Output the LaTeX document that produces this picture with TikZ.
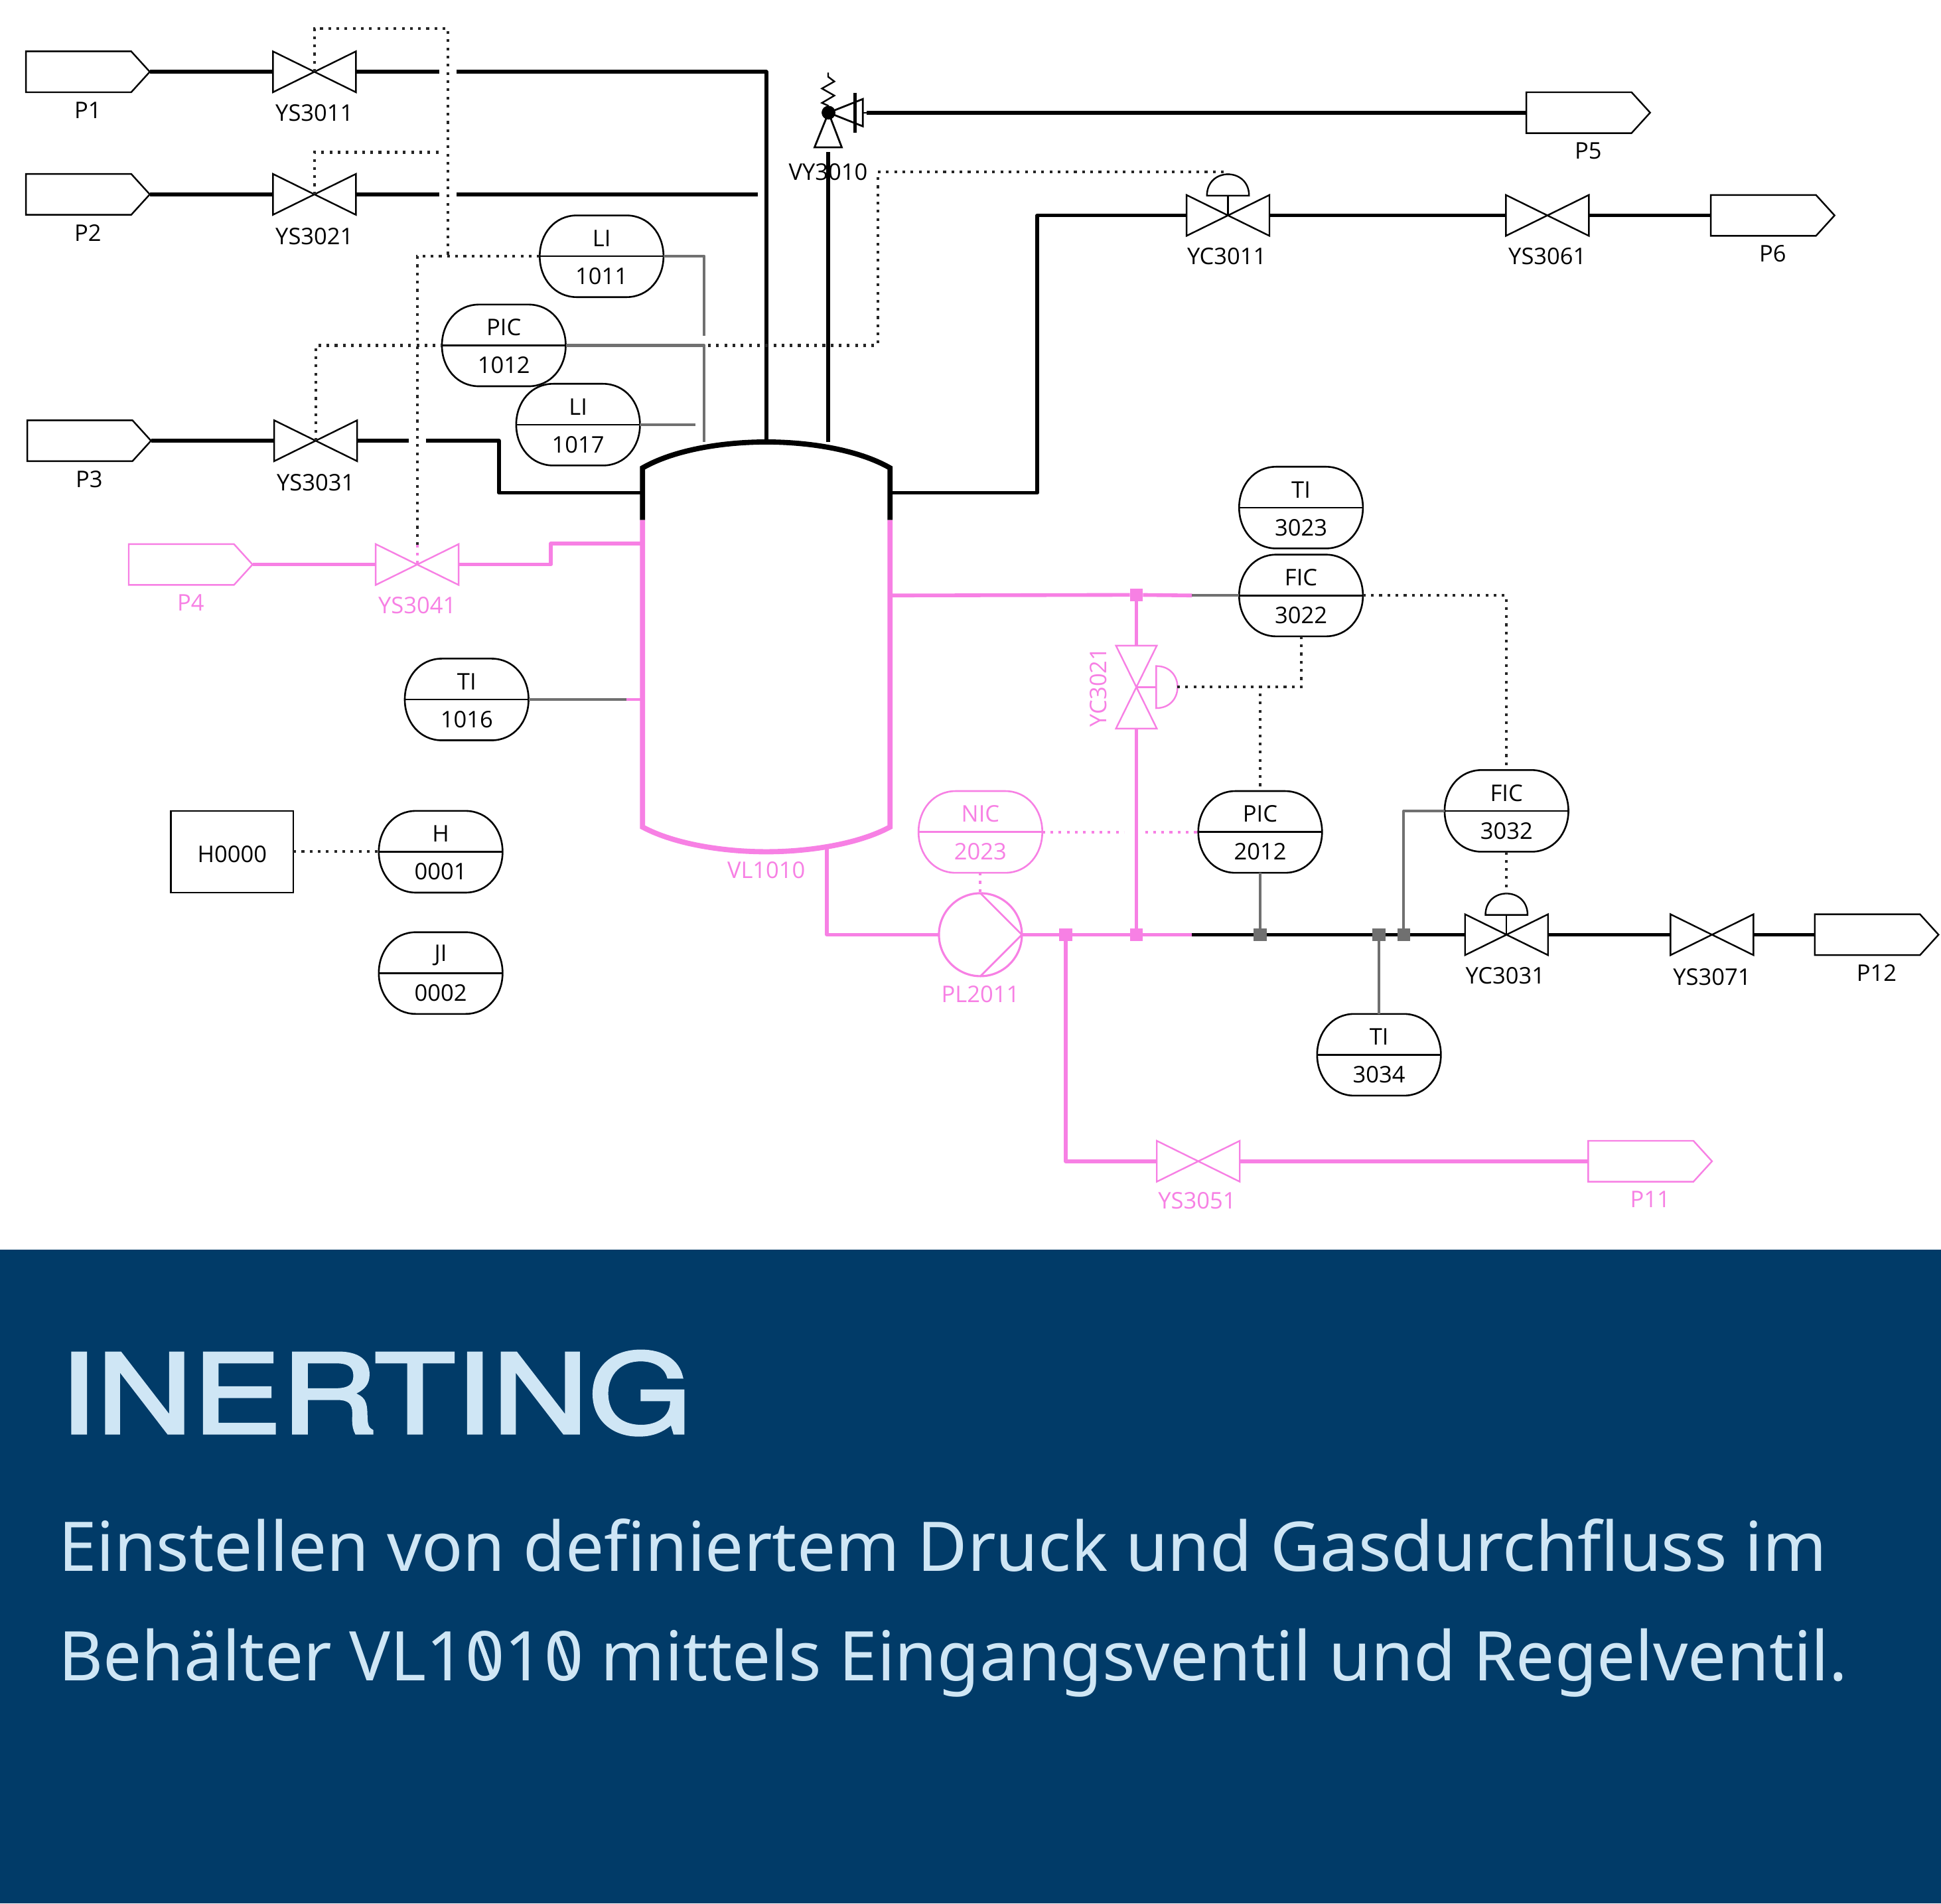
\documentclass[tikz,border=0pt]{standalone}
\usepackage{fontspec}
\setmainfont{Open Sans}
\newfontfamily\headf[FakeBold=2.5]{TeX Gyre Heros}
\newfontfamily\bodyf{Noto Sans}
\definecolor{mg}{HTML}{F780E4}
\definecolor{sigg}{HTML}{707070}
\definecolor{navy}{HTML}{013B68}
\definecolor{pale}{HTML}{CFE6F5}
\newcommand\slz{\ooalign{0\cr\hidewidth\raisebox{.06em}{\rotatebox[origin=c]{20}{\rule{.07em}{.6em}}}\hidewidth\cr}}
\tikzset{
  symb/.style={line width=1.3pt,line join=miter},
  pipe/.style={line width=3pt,black,line join=round},
  pipem/.style={line width=3pt,mg,line join=round},
  sigline/.style={line width=2.2pt,sigg,line join=round},
  dotb/.style={line width=2.2pt,black!85,dash pattern=on 2.2pt off 4.4pt},
  dotm/.style={line width=2.2pt,mg,dash pattern=on 2.2pt off 4.4pt},
  lab/.style={font=\fontsize{18.5}{22}\selectfont,inner sep=0pt},
  hidden/.style={inner sep=0pt,outer sep=0pt,draw=none},
  offbox/.style={hidden,minimum width=100pt,minimum height=33pt},
  valh/.style={hidden,minimum width=67pt,minimum height=33pt},
  valv/.style={hidden,minimum width=33pt,minimum height=67pt},
  instbox/.style={hidden,minimum width=100pt,minimum height=66pt},
  junc/.style={inner sep=0pt,outer sep=0pt,minimum size=10.5pt,fill=mg},
  juncg/.style={inner sep=0pt,outer sep=0pt,minimum size=10.5pt,fill=sigg},
}
\newcommand\offpg[5]{%
  \node[offbox] (#1) at (#2,#3) {};
  \draw[symb,#5] (#1.north west) -- ([xshift=-15pt]#1.north east) -- (#1.east) -- ([xshift=-15pt]#1.south east) -- (#1.south west) -- cycle;
  \node[lab,text=#5] (#1lab) at (#2,#3+31) {#4};
}
\newcommand\valveh[4]{%
  \node[valh] (#1) at (#2,#3) {};
  \draw[symb,#4] (#1.north west) -- (#1.south east) -- (#1.north east) -- (#1.south west) -- cycle;
}
\newcommand\instr[6]{%
  \node[instbox] (#1) at (#2,#3) {};
  \draw[line width=1.4pt,#6] (#2-50,#3) .. controls (#2-50,#3-18) and (#2-38,#3-33) .. (#2-20,#3-33) -- (#2+20,#3-33)
     .. controls (#2+38,#3-33) and (#2+50,#3-18) .. (#2+50,#3)
     .. controls (#2+50,#3+18) and (#2+38,#3+33) .. (#2+20,#3+33) -- (#2-20,#3+33)
     .. controls (#2-38,#3+33) and (#2-50,#3+18) .. (#2-50,#3) -- cycle;
  \draw[line width=1.4pt,#6] (#1.west) -- (#1.east);
  \node[lab,text=#6] (#1t) at (#2,#3-14.5) {#4};
  \node[lab,text=#6] (#1b) at (#2,#3+16) {#5};
}
\newcommand\domeup[4]{%
  \node[hidden,minimum width=34pt,minimum height=17pt,anchor=south] (#1) at (#2,#3) {};
  \draw[symb,#4] (#1.south west) .. controls ([yshift=6pt]#1.north west) and ([yshift=6pt]#1.north east) .. (#1.south east) -- cycle;
}
\begin{document}
\begin{tikzpicture}[x=1pt,y=-1pt]
\useasboundingbox (0,0) rectangle (1568,1537.45);
\fill[white] (0,0) rectangle (1568,1010);
\fill[navy] (0,1009.5) rectangle (1568,1537.45);

% off-page connectors
\offpg{P1}{71}{58}{P1}{black}
\offpg{P2}{71}{157}{P2}{black}
\offpg{P3}{72}{356}{P3}{black}
\offpg{P4}{154}{456}{P4}{mg}
\offpg{P5}{1283}{91}{P5}{black}
\offpg{P6}{1432}{174}{P6}{black}
\offpg{P11}{1333}{938}{P11}{mg}
\offpg{P12}{1516}{755}{P12}{black}

% valves
\valveh{YS3011}{254}{58}{black}
\valveh{YS3021}{254}{157}{black}
\valveh{YS3031}{255}{356}{black}
\valveh{YS3041}{337}{456}{mg}
\valveh{YC3011}{992}{174}{black}
\valveh{YS3061}{1250}{174}{black}
\valveh{YC3031}{1217}{755}{black}
\valveh{YS3071}{1383}{755}{black}
\valveh{YS3051}{968}{938}{mg}
\node[valv] (YC3021) at (918,555) {};
\draw[symb,mg] (YC3021.north west) -- (YC3021.north east) -- (YC3021.south west) -- (YC3021.south east) -- cycle;

\node[lab] (lYS3011) at (254,91) {YS3011};
\node[lab] (lYS3021) at (254,191) {YS3021};
\node[lab] (lYS3031) at (255,390) {YS3031};
\node[lab,text=mg] (lYS3041) at (337,489) {YS3041};
\node[lab] (lYC3011) at (991,207) {YC3011};
\node[lab] (lYS3061) at (1250,207) {YS3061};
\node[lab] (lYC3031) at (1216,788) {YC3031};
\node[lab] (lYS3071) at (1383,789) {YS3071};
\node[lab,text=mg] (lYS3051) at (967,970) {YS3051};
\node[lab,text=mg,rotate=90] (lYC3021) at (887,555) {YC3021};
\node[lab] (lVY3010) at (669,139) {VY3010};
\node[lab,text=mg] (lVL1010) at (619,703) {VL1010};
\node[lab,text=mg] (lPL2011) at (792,803) {PL2011};

% actuators
\domeup{A3011}{992}{158}{black}
\domeup{A3031}{1217}{739}{black}
\node[hidden,minimum width=17pt,minimum height=34pt] (A3021) at (942.5,555) {};
\draw[symb,mg] (A3021.north west) .. controls (957,538) and (957,572) .. (A3021.south west) -- cycle;
\draw[symb] (YC3011.center) -- (A3011.south);
\draw[symb] (YC3031.center) -- (A3031.south);
\draw[symb,mg] (YC3021.center) -- (A3021.west);

% instruments
\instr{LI1011}{486}{207}{LI}{1011}{black}
\instr{PIC1012}{407}{279}{PIC}{1012}{black}
\instr{LI1017}{467}{343}{LI}{1017}{black}
\instr{TI3023}{1051}{410}{TI}{3023}{black}
\instr{FIC3022}{1051}{481}{FIC}{3022}{black}
\instr{TI1016}{377}{565}{TI}{1016}{black}
\instr{PIC2012}{1018}{672}{PIC}{2012}{black}
\instr{NIC2023}{792}{672}{NIC}{2023}{mg}
\instr{FIC3032}{1217}{655}{FIC}{3032}{black}
\instr{H0001}{356}{688}{H}{0001}{black}
\instr{JI0002}{356}{786}{JI}{0002}{black}
\instr{TI3034}{1114}{852}{TI}{3034}{black}
\node[draw,line width=1.4pt,minimum width=99pt,minimum height=66pt,inner sep=0pt,outer sep=0pt] (H0000) at (187.5,688) {};
\node[lab] (H0000t) at (187.5,690) {H0000};

% vessel
\node[hidden,minimum width=200pt,minimum height=331pt] (VL1010) at (619,522.5) {};
\draw[line width=4.2pt,black,line join=miter] (519,420) -- (519,378) .. controls (545,363) and (585,357) .. (619,357) .. controls (653,357) and (693,363) .. (719,378) -- (719,420);
\draw[line width=4.2pt,mg,line join=miter] (519,420) -- (519,668) .. controls (545,682) and (585,688) .. (619,688) .. controls (653,688) and (693,682) .. (719,668) -- (719,420);

% safety valve VY3010
\node[hidden,circle,fill=black,minimum size=11pt] (VY3010) at (669.3,91) {};
\draw[symb,line width=1.5pt] (VY3010.center) -- (658,119) -- (680,119) -- cycle;
\draw[symb,line width=1.5pt] (VY3010.center) -- (697,80) -- (697,102) -- cycle;
\draw[line width=2.4pt] (690.6,75) -- (690.6,107);
\draw[symb] (669,58.6) -- (669,62) -- (674,65.8) -- (664,71.5) -- (674,77.2) -- (664,83.1) -- (VY3010.north);
\coordinate (vyOut) at (700,91);
\coordinate (vyIn) at (669,123);
\node[hidden,circle,fill=black,minimum size=11pt] (VY3010dot) at (669.3,91) {};
\draw[symb] (697,91) -- (vyOut);
\draw[pipe] (vyOut) -- (P5.west);
\coordinate (vTop2) at (669,357);
\draw[pipe] (vTop2) -- (vyIn);

% junctions
\node[junc] (j1) at (918,480.5) {};
\node[junc] (j2) at (918,755) {};
\node[junc] (j3) at (861,755) {};
\node[juncg] (j4) at (1018,755) {};
\node[juncg] (j5) at (1114,755) {};
\node[juncg] (j6) at (1134,755) {};

% pump
\node[circle,draw=mg,line width=1.7pt,minimum size=67pt,inner sep=0pt,outer sep=0pt] (PL2011) at (792,755) {};
\draw[symb,line width=1.5pt,mg] (PL2011.north) -- (PL2011.east) -- (PL2011.south);

% black pipes
\coordinate (g1a) at (355,58); \coordinate (g1b) at (369,58); \coordinate (b1) at (619,58);
\draw[pipe] (P1.east) -- (YS3011.west);
\draw[pipe] (YS3011.east) -- (g1a);
\draw[pipe] (g1b) -- (b1) -- (VL1010.north);
\coordinate (g2a) at (355,157); \coordinate (g2b) at (369,157); \coordinate (e2) at (612,157);
\draw[pipe] (P2.east) -- (YS3021.west);
\draw[pipe] (YS3021.east) -- (g2a);
\draw[pipe] (g2b) -- (e2);
\coordinate (g3a) at (330,356); \coordinate (g3b) at (344,356); \coordinate (b3a) at (403,356); \coordinate (b3b) at (403,398); \coordinate (v3) at (519,398);
\draw[pipe] (P3.east) -- (YS3031.west);
\draw[pipe] (YS3031.east) -- (g3a);
\draw[pipe] (g3b) -- (b3a) -- (b3b) -- (v3);
\coordinate (v6) at (719,398); \coordinate (b6a) at (838,398); \coordinate (b6b) at (838,174);
\draw[pipe] (v6) -- (b6a) -- (b6b) -- (YC3011.west);
\draw[pipe] (YC3011.east) -- (YS3061.west);
\draw[pipe] (YS3061.east) -- (P6.west);
\coordinate (t12) at (963,755);
\draw[pipe] (t12) -- (j4) -- (j5) -- (j6) -- (YC3031.west);
\draw[pipe] (YC3031.east) -- (YS3071.west);
\draw[pipe] (YS3071.east) -- (P12.west);

% magenta pipes
\coordinate (b4a) at (445,456); \coordinate (b4b) at (445,439); \coordinate (v4) at (519,439);
\draw[pipem] (P4.east) -- (YS3041.west);
\draw[pipem] (YS3041.east) -- (b4a) -- (b4b) -- (v4);
\coordinate (v7) at (719,481); \coordinate (t7) at (963,481);
\draw[pipem] (v7) -- (j1) -- (t7);
\draw[pipem] (j1) -- (YC3021.north);
\draw[pipem] (YC3021.south) -- (j2);
\coordinate (v8) at (668,685); \coordinate (b8) at (668,755);
\draw[pipem] (v8) -- (b8) -- (PL2011.west);
\draw[pipem] (PL2011.east) -- (j3) -- (j2) -- (t12);
\coordinate (b9) at (861,938);
\draw[pipem] (j3) -- (b9) -- (YS3051.west);
\draw[pipem] (YS3051.east) -- (P11.west);

% grey signal lines
\coordinate (s1a) at (569,207); \coordinate (s1b) at (569,271);
\draw[sigline] (LI1011.east) -- (s1a) -- (s1b);
\coordinate (s2a) at (569,279); \coordinate (s2b) at (569,357);
\draw[sigline] (PIC1012.east) -- (s2a) -- (s2b);
\coordinate (s3) at (562,343);
\draw[sigline] (LI1017.east) -- (s3);
\coordinate (s4) at (506,565); \coordinate (v5) at (518,565);
\draw[sigline] (TI1016.east) -- (s4);
\draw[sigline,mg] (s4) -- (v5);
\draw[sigline] (t7) -- (FIC3022.west);
\draw[sigline] (PIC2012.south) -- (j4);
\draw[sigline] (j5) -- (TI3034.north);
\coordinate (s5) at (1134,655);
\draw[sigline] (j6) -- (s5) -- (FIC3032.west);

% dotted signal lines
\coordinate (d1a) at (254,23); \coordinate (d1b) at (362,23); \coordinate (d1c) at (362,207);
\coordinate (d1d) at (337,207); \coordinate (d1e) at (337,440);
\draw[dotb] (YS3011.center) -- (d1a) -- (d1b) -- (d1c);
\draw[dotb] (LI1011.west) -- (d1d) -- (d1e);
\draw[dotm] (d1e) -- (YS3041.center);
\coordinate (d2a) at (254,123); \coordinate (d2b) at (355,123);
\draw[dotb] (YS3021.center) -- (d2a) -- (d2b);
\coordinate (d3a) at (255,279);
\draw[dotb] (YS3031.center) -- (d3a) -- (PIC1012.west);
\coordinate (d4a) at (572,279); \coordinate (d4b) at (709,279); \coordinate (d4c) at (709,139); \coordinate (d4d) at (992,139);
\draw[dotb] (d4a) -- (d4b) -- (d4c) -- (d4d) -- (A3011.north);
\coordinate (d5a) at (1217,481);
\draw[dotb] (FIC3022.east) -- (d5a) -- (FIC3032.north);
\coordinate (d6a) at (1051,555); \coordinate (d6b) at (1018,555);
\draw[dotb] (FIC3022.south) -- (d6a) -- (d6b) -- (PIC2012.north);
\draw[dotb] (A3021.east) -- (d6b);
\coordinate (d7a) at (908,672); \coordinate (d7b) at (925,672);
\draw[dotm] (NIC2023.east) -- (d7a);
\draw[dotm] (d7b) -- (PIC2012.west);
\draw[dotm] (NIC2023.south) -- (PL2011.north);
\draw[dotb] (H0000.east) -- (H0001.west);
\draw[dotb] (FIC3032.south) -- (A3031.north);

% caption
\node[anchor=base west,inner sep=0pt,text=pale] (title) at (48,1157.7)
  {\scalebox{1.207}[1]{\headf\fontsize{89}{100}\selectfont INERTING}};
\node[anchor=base west,inner sep=0pt,text=pale] (line1) at (47,1269)
  {\bodyf\fontsize{55.35}{60}\selectfont Einstellen von definiertem Druck und Gasdurchfluss im};
\node[anchor=base west,inner sep=0pt,text=pale] (line2) at (47,1357.6)
  {\bodyf\fontsize{55.35}{60}\selectfont Behälter VL1\slz1\slz{} mittels Eingangsventil und Regelventil.};
\end{tikzpicture}
\end{document}
